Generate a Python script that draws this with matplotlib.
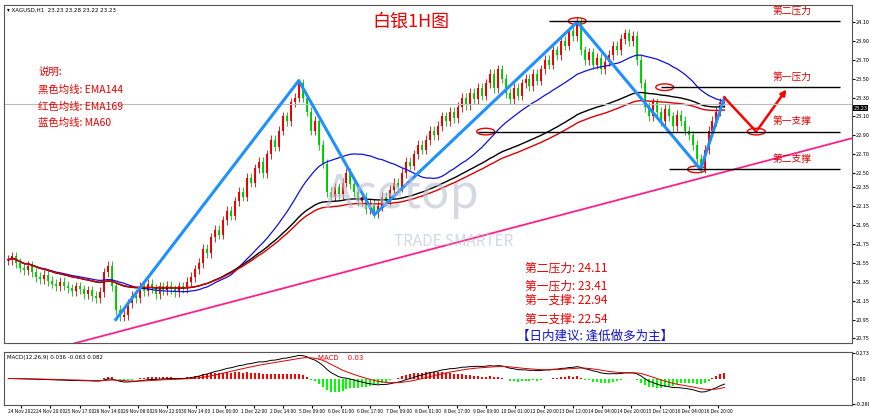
import numpy as np
import pandas as pd
import matplotlib
matplotlib.use("Agg")
import matplotlib.pyplot as plt
from matplotlib.patches import Ellipse, FancyArrowPatch

plt.rcParams['font.family'] = ['Noto Sans CJK SC', 'DejaVu Sans']

closes = [21.58,21.62,21.55,21.50,21.47,21.52,21.45,21.40,21.38,21.42,21.36,21.33,21.30,21.35,21.31,21.28,21.25,21.30,21.27,21.22,21.26,21.20,21.18,21.24,21.45,21.52,21.30,21.05,
 20.98,21.00,21.12,21.20,21.18,21.30,21.25,21.33,21.28,21.22,21.30,21.26,21.31,21.27,21.24,21.30,21.28,21.35,
 21.40,21.48,21.55,21.70,21.65,21.82,21.90,21.85,22.00,22.10,22.05,22.20,22.30,22.25,22.45,
 22.40,22.55,22.62,22.50,22.70,22.85,22.78,22.95,23.10,23.05,23.25,23.30,23.45,
 23.30,23.15,22.95,23.05,22.80,22.60,22.30,
 22.25,22.35,22.28,22.40,22.50,22.38,22.30,22.20,22.25,22.12,22.18,22.08,
 22.15,22.25,22.20,22.32,22.40,22.35,22.50,22.62,22.58,22.70,22.80,22.75,22.85,22.95,22.90,23.00,23.10,23.05,
 23.15,23.08,23.20,23.30,23.22,23.35,23.28,23.40,23.32,23.45,23.55,23.40,23.60,23.50,
 23.35,23.28,23.40,23.32,23.45,23.50,23.42,23.55,23.48,23.60,23.70,23.65,23.80,23.75,23.90,23.85,24.00,23.95,24.10,
 23.80,23.70,23.78,23.65,23.72,23.60,23.68,23.75,23.85,23.80,23.92,23.98,23.90,23.95,23.70,
 23.45,23.20,23.10,23.25,23.15,23.05,23.18,23.10,23.00,23.12,23.05,22.95,22.90,22.80,22.65,22.55,
 22.75,22.95,23.05,23.15,23.25,23.25]
wick = 0.05
ma_period, ema1_period, ema2_period = 30, 72, 85

zigzag = [(27,20.95),(73,23.48),(92,22.06),(143,24.10),(174,22.54),(180,23.30)]
red_path = [(180,23.30),(188,22.94),(196,23.41)]
trend = [(15,20.68),(213,22.88)]
levels = [("第二压力",24.11,136),("第一压力",23.41,164),("第一支撑",22.94,118),("第二支撑",22.54,166)]
circles = [(143,24.11),(165,23.41),(120,22.94),(188,22.94),(173,22.54)]
current = 23.23
ytick_vals = [24.10,23.90,23.70,23.50,23.30,23.10,22.90,22.70,22.50,22.35,22.15,21.95,21.75,21.55,21.35,21.15,20.95,20.75]
xlabels = ["24 Nov 2022","24 Nov 20:00","25 Nov 17:00","28 Nov 14:00","29 Nov 08:00","29 Nov 22:00","30 Nov 14:00",
 "1 Dec 06:00","1 Dec 22:00","2 Dec 14:00","5 Dec 09:00","6 Dec 01:00","6 Dec 17:00","7 Dec 09:00","8 Dec 01:00",
 "8 Dec 17:00","9 Dec 09:00","10 Dec 01:00","12 Dec 20:00","13 Dec 12:00","14 Dec 04:00","14 Dec 20:00",
 "15 Dec 12:00","16 Dec 04:00","16 Dec 20:00"]
summary = ["第二压力: 24.11","第一压力: 23.41","第一支撑: 22.94","第二支撑: 22.54"]
advice = "【日内建议: 逢低做多为主】"
legend_lines = ["说明:","黑色均线: EMA144","红色均线: EMA169","蓝色均线: MA60"]

c = pd.Series(closes)
o = c.shift(1).fillna(c.iloc[0])
idx = np.arange(len(c))
ma = c.rolling(ma_period, min_periods=1).mean()
e1 = c.ewm(span=ema1_period).mean()
e2 = c.ewm(span=ema2_period).mean()
macd = c.ewm(span=12).mean() - c.ewm(span=26).mean()
sig = macd.ewm(span=9).mean()
hist = macd - sig

fig = plt.figure(figsize=(8.7,4.19), dpi=100)
ax = fig.add_axes([0.005,0.181,0.974,0.807])
ax2 = fig.add_axes([0.005,0.033,0.974,0.127])

up = c >= o
hi = np.maximum(o,c)+wick; lo = np.minimum(o,c)-wick
ax.vlines(idx, lo, hi, colors=np.where(up,'#e00000','#00c000'), lw=0.6)
ax.bar(idx, (c-o).abs().clip(lower=0.01), bottom=np.minimum(o,c), width=0.5,
       color=np.where(up,'#ff0000','#00dd00'), edgecolor='none')
ax.plot(idx, ma, color='#1010e0', lw=0.9)
ax.plot(idx, e1, color='black', lw=1.0)
ax.plot(idx, e2, color='#dd0000', lw=1.0)
ax.axhline(current, color='#bbbbbb', lw=0.8)
ax.plot(*zip(*trend), color='#ff1f8f', lw=1.3)
ax.plot(*zip(*zigzag), color='#1e90ff', lw=2.2)
ax.plot(*zip(*red_path[:2]), color='#ff0000', lw=1.8)
ax.add_patch(FancyArrowPatch(red_path[1], red_path[2], arrowstyle='-|>', mutation_scale=8, color='#ff0000', lw=1.8))
for name, v, start in levels:
    ax.hlines(v, start, 209, color='black', lw=1.0)
    ax.text(192, v+0.06, name, color='#dd0000', fontsize=7, va='bottom')
for x, y in circles:
    ax.add_patch(Ellipse((x,y), 4.5, 0.07, fill=False, ec='#ee0000', lw=1.0))
ax.text(0.48,0.95,"白银1H图",transform=ax.transAxes,color='#ee0000',fontsize=13,ha='center',va='center')
for k,t in enumerate(legend_lines):
    ax.text(0.04,0.80-k*0.05,t,transform=ax.transAxes,color='#ee0000',fontsize=7.5,va='center')
for t, yf in zip(summary, [0.222,0.169,0.128,0.072]):
    ax.text(0.615,yf,t,transform=ax.transAxes,color='#ee0000',fontsize=8.5,va='center')
ax.text(0.605,0.022,advice,transform=ax.transAxes,color='#1010cc',fontsize=9,va='center')
ax.text(0.47,0.44,"Acetop",transform=ax.transAxes,color='#b8bed0',fontsize=34,ha='center',va='center',alpha=0.6)
ax.text(0.53,0.30,"TRADE SMARTER",transform=ax.transAxes,color='#b8bed0',fontsize=11,ha='center',va='center',alpha=0.6)
ax.text(0.003,0.993,"▾ XAGUSD,H1  23.23 23.28 23.22 23.23",transform=ax.transAxes,fontsize=4,va='top',family='DejaVu Sans')
ax.set_xlim(-1,212); ax.set_ylim(20.70,24.28)
ax.yaxis.tick_right()
ax.set_yticks(ytick_vals); ax.set_yticklabels([f"{v:.2f}" for v in ytick_vals], fontsize=4)
ax.text(1.002,(current-20.70)/3.58-0.012,f"{current:.2f}",transform=ax.transAxes,fontsize=4,color='white',va='center',
        bbox=dict(boxstyle='square,pad=0.1',fc='black',ec='none'))
ax.set_xticks([])
ax.tick_params(axis='y', length=2, pad=1)

ax2.bar(idx, hist, width=0.5, color=np.where(hist>=0,'#ff0000','#00ff00'))
ax2.plot(idx, macd*0.6, color='black', lw=0.7)
ax2.plot(idx, sig*0.6, color='#dd0000', lw=0.7)
m = max(abs(hist).max(), abs(macd*0.6).max())*1.15
ax2.set_xlim(-1,212); ax2.set_ylim(-m, m)
ax2.yaxis.tick_right()
ax2.set_yticks([m*0.95,0,-m*0.95]); ax2.set_yticklabels(["0.273","0.00","-0.288"],fontsize=4)
ax2.set_xticks(np.arange(len(xlabels))*7.3+3.3); ax2.set_xticklabels(xlabels,fontsize=3.5)
ax2.tick_params(length=2, pad=1)
ax2.text(0.003,0.95,"MACD(12,26,9) 0.036 -0.063 0.082",transform=ax2.transAxes,fontsize=4,va='top',family='DejaVu Sans')
ax2.text(0.37,0.95,"MACD    0.03",transform=ax2.transAxes,fontsize=5,va='top',color='#ee0000',family='DejaVu Sans')
for a in (ax,ax2):
    for s in a.spines.values(): s.set_color('#555555'); s.set_linewidth(0.8)
fig.savefig("out.png", dpi=100)
